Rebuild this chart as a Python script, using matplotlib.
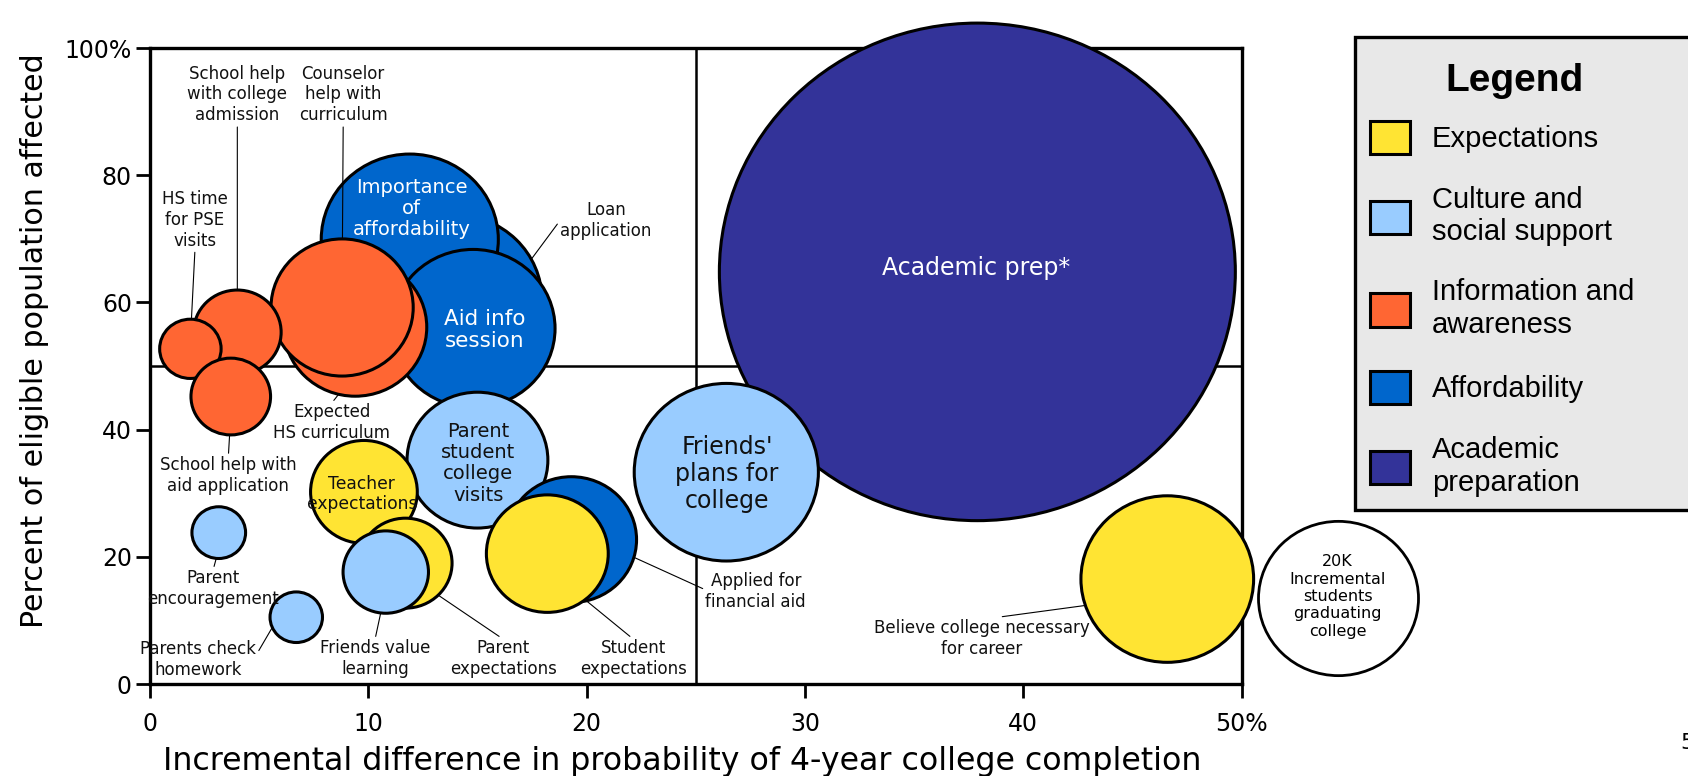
import numpy as np
import matplotlib
matplotlib.use("Agg")
import matplotlib.pyplot as plt
from matplotlib.markers import MarkerStyle
from matplotlib.patches import Patch, Rectangle
from matplotlib.path import Path
from matplotlib.transforms import Affine2D

# bubbles, listed back to front
# x: incremental difference in 4-year completion probability (%)
# y: percent of eligible population affected
# grads_k: incremental students graduating college (thousands) -> bubble area
names = ["Academic prep", "Loan application", "Importance of affordability",
         "Aid info session", "Expected HS curriculum", "Counselor help with curriculum",
         "School help with college admission", "HS time for PSE visits",
         "School help with aid application", "Parent encouragement",
         "Parents check homework", "Parent student college visits",
         "Teacher expectations", "Parent expectations", "Friends value learning",
         "Applied for financial aid", "Student expectations",
         "Friends' plans for college", "Believe college necessary for career"]
x_diff = [37.9, 13.9, 11.9, 14.8, 9.4, 8.8, 4.0, 1.85, 3.7, 3.15, 6.7,
          15.0, 9.8, 11.7, 10.8, 19.3, 18.2, 26.4, 46.6]
y_pct = [64.8, 60.4, 69.9, 55.9, 56.1, 59.2, 55.3, 52.7, 45.2, 23.8, 10.5,
         35.2, 30.2, 19.0, 17.6, 22.7, 20.5, 33.3, 16.5]
grads_k = [208, 24.5, 24.5, 21, 16, 15.8, 6.0, 2.95, 4.95, 2.25, 2.15,
           15.5, 8.9, 6.8, 5.7, 13.3, 11.6, 26.5, 23.3]
category = ["acad", "afford", "afford", "afford", "info", "info", "info", "info",
            "info", "culture", "culture", "culture", "expect", "expect", "culture",
            "afford", "expect", "culture", "expect"]

# size key bubble
ref_k = 20
ref_x, ref_y = 54.4, 13.55

cat_order = ["expect", "culture", "info", "afford", "acad"]
cat_labels = {"expect": "Expectations",
              "culture": "Culture and\nsocial support",
              "info": "Information and\nawareness",
              "afford": "Affordability",
              "acad": "Academic\npreparation"}
palette = {"expect": "#FFE433", "culture": "#99CCFF", "info": "#FF6633",
           "afford": "#0066CC", "acad": "#333399"}

x_ticks = [0, 10, 20, 30, 40, 50]
x_ticklabels = ["0", "10", "20", "30", "40", "50%"]
y_ticks = [0, 20, 40, 60, 80, 100]
y_ticklabels = ["0", "20", "40", "60", "80", "100%"]

# text inside bubbles: (bubble, text, x, y, fontsize, color)
inner_labels = [
    ("Academic prep", "Academic prep*", 37.86, 65.4, 17, "white"),
    ("Importance of affordability", "Importance\nof\naffordability", 11.99, 74.8, 14, "white"),
    ("Aid info session", "Aid info\nsession", 15.33, 55.7, 15.5, "white"),
    ("Parent student college visits", "Parent\nstudent\ncollege\nvisits", 15.04, 34.7, 14, "#111111"),
    ("Teacher expectations", "Teacher\nexpectations", 9.7, 29.9, 12.3, "#111111"),
    ("Friends' plans for college", "Friends'\nplans for\ncollege", 26.43, 33.0, 17, "#111111"),
]

# callouts: (bubble, text, text x, text y, relpos of leader start on text box)
callouts = [
    ("School help with college admission", "School help\nwith college\nadmission", 4.0, 92.7, (0.5, 0)),
    ("Counselor help with curriculum", "Counselor\nhelp with\ncurriculum", 8.85, 92.7, (0.5, 0)),
    ("HS time for PSE visits", "HS time\nfor PSE\nvisits", 2.06, 73.0, (0.5, 0)),
    ("Loan application", "Loan\napplication", 20.88, 72.9, (0, 0.5)),
    ("Expected HS curriculum", "Expected\nHS curriculum", 8.32, 41.1, (0.5, 1)),
    ("School help with aid application", "School help with\naid application", 3.59, 32.8, (0.5, 1)),
    ("Parent encouragement", "Parent\nencouragement", 2.9, 15.0, (0.5, 1)),
    ("Parents check homework", "Parents check\nhomework", 2.2, 3.9, (1, 0.6)),
    ("Friends value learning", "Friends value\nlearning", 10.31, 4.0, (0.5, 1)),
    ("Parent expectations", "Parent\nexpectations", 16.18, 4.0, (0.5, 1)),
    ("Student expectations", "Student\nexpectations", 22.14, 4.0, (0.5, 1)),
    ("Applied for financial aid", "Applied for\nfinancial aid", 27.75, 14.5, (0, 0.55)),
    ("Believe college necessary for career", "Believe college necessary\nfor career", 38.1, 7.1, (0.5, 1)),
]

W, H, DPI = 1688, 776, 100
fig = plt.figure(figsize=(W / DPI, H / DPI), dpi=DPI)
ax = fig.add_axes([150 / W, 1 - 684 / H, 1091.5 / W, 636 / H])
ax.set_xlim(0, 50)
ax.set_ylim(0, 100)

# slightly wide ellipse marker, area proportional to graduates
aspect = 1.037
bubble = MarkerStyle(Affine2D().scale(aspect, 1).transform_path(Path.unit_circle()))
width_20k = 115.2  # marker width in points for 20K
s_per_k = width_20k ** 2 / 20
sizes = np.array(grads_k) * s_per_k

ax.scatter(x_diff, y_pct, s=sizes, c=[palette[c] for c in category], marker=bubble,
           edgecolors="black", linewidths=2.2, zorder=3, clip_on=False)
ax.scatter([ref_x], [ref_y], s=[ref_k * s_per_k], c="white", marker=bubble,
           edgecolors="black", linewidths=2.0, zorder=3, clip_on=False)
ax.text(ref_x, ref_y + 0.2, "20K\nIncremental\nstudents\ngraduating\ncollege",
        ha="center", va="center", fontsize=11.5, zorder=6)

# quadrant dividers
ax.axvline(25, color="black", lw=1.8, zorder=2)
ax.axhline(50, color="black", lw=1.8, zorder=2)

for name, txt, tx, ty, fs, col in inner_labels:
    ax.text(tx, ty, txt, ha="center", va="center", fontsize=fs, color=col,
            zorder=6, linespacing=1.15)


def edge_point(i, tx, ty):
    # point on the bubble outline facing the label
    cx, cy = ax.transData.transform((x_diff[i], y_pct[i]))
    px, py = ax.transData.transform((tx, ty))
    w = np.sqrt(sizes[i]) * DPI / 72
    a, b = w / 2, w / 2 / aspect
    ang = np.arctan2(py - cy, px - cx)
    r = a * b / np.hypot(b * np.cos(ang), a * np.sin(ang))
    return ax.transData.inverted().transform((cx + r * np.cos(ang), cy + r * np.sin(ang)))


for name, txt, tx, ty, rel in callouts:
    i = names.index(name)
    ex, ey = edge_point(i, tx, ty)
    ax.annotate(txt, xy=(ex, ey), xytext=(tx, ty), ha="center", va="center",
                fontsize=12, color="#111111", zorder=5, annotation_clip=False,
                arrowprops=dict(arrowstyle="-", lw=0.8, color="black",
                                relpos=rel, shrinkA=0, shrinkB=0))

for side in ["left", "right", "top", "bottom"]:
    ax.spines[side].set_linewidth(2.4)
ax.set_xticks(x_ticks)
ax.set_xticklabels(x_ticklabels)
ax.set_yticks(y_ticks)
ax.set_yticklabels(y_ticklabels)
ax.tick_params(direction="out", length=10, width=2, labelsize=17)
ax.tick_params(axis="x", pad=10)
ax.tick_params(axis="y", pad=3)

ax.set_xlabel("Incremental difference in probability of 4-year college completion",
              fontsize=22.8, va="top")
ax.xaxis.set_label_coords(0.488, -0.098)
ax.set_ylabel("Percent of eligible population affected", fontsize=21.7)
ax.yaxis.set_label_coords(-0.0925, 0.54)

# legend panel
fig.add_artist(Rectangle((1355 / W, 1 - 510 / H), 400 / W, (510 - 37.3) / H,
                         transform=fig.transFigure, facecolor="#E8E8E8",
                         edgecolor="black", lw=2.4, zorder=1))
fig.text(1515 / W, 1 - 81 / H, "Legend", family="Liberation Sans", fontsize=28,
         weight="bold", ha="center", va="center", zorder=6)
handles = [Patch(facecolor=palette[k], edgecolor="black", linewidth=2.2, label=cat_labels[k])
           for k in cat_order]
fig.legend(handles=handles, loc="upper left",
           bbox_to_anchor=(1370 / W, 1 - 120.5 / H), frameon=False,
           prop={"family": "Liberation Sans", "size": 21},
           handlelength=1.38, handleheight=1.38, handletextpad=0.75,
           labelspacing=1.1, borderpad=0, borderaxespad=0)

fig.text(1680 / W, 1 - 743 / H, "5", fontsize=16, ha="left", va="center")

fig.savefig("out.png", dpi=DPI)
